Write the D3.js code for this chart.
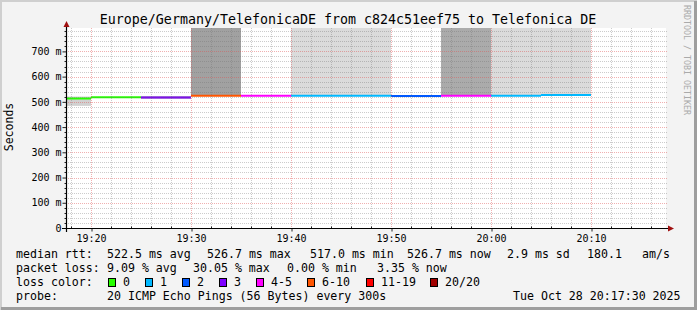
<!DOCTYPE html>
<html>
<head>
<meta charset="utf-8">
<script src="https://cdn.jsdelivr.net/npm/d3@7"></script>
<style>
  body { margin: 0; background: #f3f3f3; }
  text { font-family: "DejaVu Sans Mono", monospace; fill: #000; }
</style>
</head>
<body>
<svg id="chart"></svg>
<script>
// data: one value per 5 minute step (timestamp = end of step)
const periodEnd = ["19:20", "19:25", "19:30", "19:35", "19:40", "19:45", "19:50", "19:55", "20:00", "20:05", "20:10"];
const medianRtt = [513, 518, 517, 524, 524, 524, 524, 523, 524, 524, 527];      // ms
const lossBucket = ["0", "0", "3", "6-10", "4-5", "1", "1", "2", "4-5", "1", "1"];
const smokeLow = [484, 517, 512, 526, 524, 526, 526, 523, 526, 526, 529];        // ms
const smokeHigh = [521, 520, 523, 800, 525, 800, 800, 524, 800, 800, 800];      // ms
const smokeDensity = [0.18, 0, 0.28, 0.37, 0, 0.14, 0.14, 0, 0.33, 0.14, 0.14];

const yTicks = [0, 100, 200, 300, 400, 500, 600, 700];
const lossLabels = ["0", "1", "2", "3", "4-5", "6-10", "11-19", "20/20"];
const lossColors = ["#26ff00", "#00b8ff", "#0059ff", "#7e00ff", "#ff00ff", "#ff5500", "#ff0000", "#a10000"];

const title = "Europe/Germany/TelefonicaDE from c824c51eef75 to Telefonica DE";
const rttStats = ["median rtt:", "522.5 ms avg", "526.7 ms max", "517.0 ms min", "526.7 ms now", "2.9 ms sd", "180.1", "am/s"];
const lossStats = ["packet loss:", "9.09 % avg", "30.05 % max", "0.00 % min", "3.35 % now"];
const probeText = ["probe:", "20 ICMP Echo Pings (56 Bytes) every 300s", "Tue Oct 28 20:17:30 2025"];

const W = 697, H = 310;
const parse = d3.timeParse("%Y-%m-%d %H:%M:%S");
const day = "2025-10-28 ";
const tStart = parse(day + "19:17:30"), tEnd = parse(day + "20:17:30");
const ends = periodEnd.map(s => parse(day + s + ":00"));

const svg = d3.select("#chart").attr("width", W).attr("height", H);

// background + 3d border
svg.append("rect").attr("width", W).attr("height", H).attr("fill", "#f3f3f3");
svg.append("path").attr("d", `M1,${H} V1 H${W}`).attr("stroke", "#cfcfcf").attr("stroke-width", 2).attr("fill", "none");
svg.append("path").attr("d", `M1,${H - 1.5} H${W - 1.5} V1`).attr("stroke", "#9e9e9e").attr("stroke-width", 3).attr("fill", "none");

const x = d3.scaleTime().domain([tStart, tEnd]).range([66, 666]);
const y = d3.scaleLinear().domain([0, 792.7]).range([228, 28]);
const shade = d3.scaleLinear().domain([0, 1]).range(["#ffffff", "#000000"]);

// canvas
svg.append("rect").attr("x", 66).attr("y", 28).attr("width", 600).attr("height", 200).attr("fill", "#fff");
svg.append("clipPath").attr("id", "clip").append("rect")
  .attr("x", 66).attr("y", 28).attr("width", 600).attr("height", 200);

const plot = svg.append("g").attr("clip-path", "url(#clip)");

// smoke
const steps = periodEnd.map((p, i) => ({
  t0: d3.timeMinute.offset(ends[i], -5), t1: ends[i],
  med: medianRtt[i], loss: lossBucket[i],
  lo: smokeLow[i], hi: smokeHigh[i], dens: smokeDensity[i]
}));

plot.selectAll("rect.smoke")
  .data(steps.filter(d => d.dens > 0))
  .enter().append("rect")
    .attr("class", "smoke")
    .attr("x", d => x(d.t0))
    .attr("width", d => x(d.t1) - x(d.t0))
    .attr("y", d => y(d.hi))
    .attr("height", d => y(d.lo) - y(d.hi))
    .attr("fill", d => shade(d.dens));

// grid
const grid = svg.append("g").attr("fill", "none").attr("stroke-dasharray", "1,1");
const minorY = d3.range(20, 792, 20).filter(v => v % 100 !== 0);
grid.selectAll("line.my").data(minorY).enter().append("line")
  .attr("x1", 66).attr("x2", 668)
  .attr("y1", d => Math.round(y(d)) + 0.5).attr("y2", d => Math.round(y(d)) + 0.5)
  .attr("stroke", "rgba(110,110,110,0.35)");
const minorX = d3.timeMinute.every(2).range(tStart, tEnd).filter(t => t.getMinutes() % 10 !== 0);
grid.selectAll("line.mx").data(minorX).enter().append("line")
  .attr("x1", d => Math.round(x(d)) + 0.5).attr("x2", d => Math.round(x(d)) + 0.5)
  .attr("y1", 28).attr("y2", 228)
  .attr("stroke", "rgba(110,110,110,0.35)");
const majorX = d3.timeMinute.every(10).range(tStart, tEnd);
grid.selectAll("line.gx").data(majorX).enter().append("line")
  .attr("x1", d => Math.round(x(d)) + 0.5).attr("x2", d => Math.round(x(d)) + 0.5)
  .attr("y1", 28).attr("y2", 228)
  .attr("stroke", "rgba(222,80,80,0.45)");
grid.selectAll("line.gy").data(yTicks.slice(1)).enter().append("line")
  .attr("x1", 66).attr("x2", 668)
  .attr("y1", d => Math.round(y(d)) + 0.5).attr("y2", d => Math.round(y(d)) + 0.5)
  .attr("stroke", "rgba(222,80,80,0.45)");

// median lines coloured by loss
plot.selectAll("line.med")
  .data(steps)
  .enter().append("line")
    .attr("x1", d => x(d.t0)).attr("x2", d => x(d.t1))
    .attr("y1", d => y(d.med)).attr("y2", d => y(d.med))
    .attr("stroke", d => lossColors[lossLabels.indexOf(d.loss)])
    .attr("stroke-width", 2);

// axes
const yAxis = d3.axisLeft(y).tickValues(yTicks).tickSize(4).tickPadding(1)
  .tickFormat(d => d === 0 ? "0" : d + " m");
const gy = svg.append("g").attr("transform", "translate(66.5,0)").call(yAxis);
gy.select(".domain").remove();
gy.selectAll("text").attr("font-size", 10).attr("font-family", "DejaVu Sans Mono");
gy.selectAll("line").attr("stroke", "#222");
gy.selectAll("line.minor").data(minorY).enter().append("line")
  .attr("x1", -2).attr("x2", 0).attr("y1", d => Math.round(y(d)) + 0.5).attr("y2", d => Math.round(y(d)) + 0.5)
  .attr("stroke", "#222");

const xAxis = d3.axisBottom(x).ticks(d3.timeMinute.every(10)).tickSize(3).tickPadding(3)
  .tickFormat(d3.timeFormat("%H:%M"));
const gx = svg.append("g").attr("transform", "translate(0,228.5)").call(xAxis);
gx.select(".domain").remove();
gx.selectAll(".tick line").attr("stroke", "#222").attr("transform", "translate(0.5,0)");
gx.selectAll("text").attr("font-size", 10).attr("font-family", "DejaVu Sans Mono");
gx.selectAll("line.minor").data(minorX).enter().append("line")
  .attr("x1", d => Math.round(x(d)) + 0.5).attr("x2", d => Math.round(x(d)) + 0.5)
  .attr("y1", -2).attr("y2", 0).attr("stroke", "#222");

svg.append("line").attr("x1", 62).attr("x2", 669).attr("y1", 228.5).attr("y2", 228.5)
  .attr("stroke", "#000").attr("stroke-width", 1.2);
svg.append("line").attr("x1", 66.5).attr("x2", 66.5).attr("y1", 232).attr("y2", 25)
  .attr("stroke", "#000").attr("stroke-width", 1.2);
svg.append("path").attr("d", "M63.5,27 L69.5,27 L66.5,21 Z").attr("fill", "#a01010");
svg.append("path").attr("d", "M668,225.5 L668,231.5 L674,228.5 Z").attr("fill", "#a01010");

// title and axis label
svg.append("text").attr("x", 348).attr("y", 24).attr("text-anchor", "middle")
  .attr("font-size", 13.3).text(title);
svg.append("text").attr("transform", "translate(13,127) rotate(-90)").attr("text-anchor", "middle")
  .attr("font-size", 11.5).text("Seconds");
svg.append("text").attr("transform", "translate(684,5) rotate(90)")
  .attr("font-size", 8.3).style("fill", "#aaaaaa").text("RRDTOOL / TOBI OETIKER");

// legend
const lg = svg.append("g").attr("font-size", 11.6).attr("xml:space", "preserve");
const row = (items, xs, yb) => items.forEach((s, i) =>
  lg.append("text").attr("x", xs[i]).attr("y", yb).text(s));
row(rttStats, [16, 107, 207, 310, 407, 507, 587, 642], 258);
row(lossStats, [16, 107, 193, 287, 377], 272);
row(["loss color:"], [16], 286);
const boxX = [108.5, 145.5, 182.5, 219.5, 256.5, 307.5, 366.5, 430.5];
lossLabels.forEach((l, i) => {
  lg.append("rect").attr("x", boxX[i]).attr("y", 278.5).attr("width", 7).attr("height", 8)
    .attr("fill", lossColors[i]).attr("stroke", "#000").attr("stroke-width", 1);
  lg.append("text").attr("x", boxX[i] + 14.5).attr("y", 286).text(l);
});
row(probeText, [16, 107, 513], 300);
</script>
</body>
</html>
